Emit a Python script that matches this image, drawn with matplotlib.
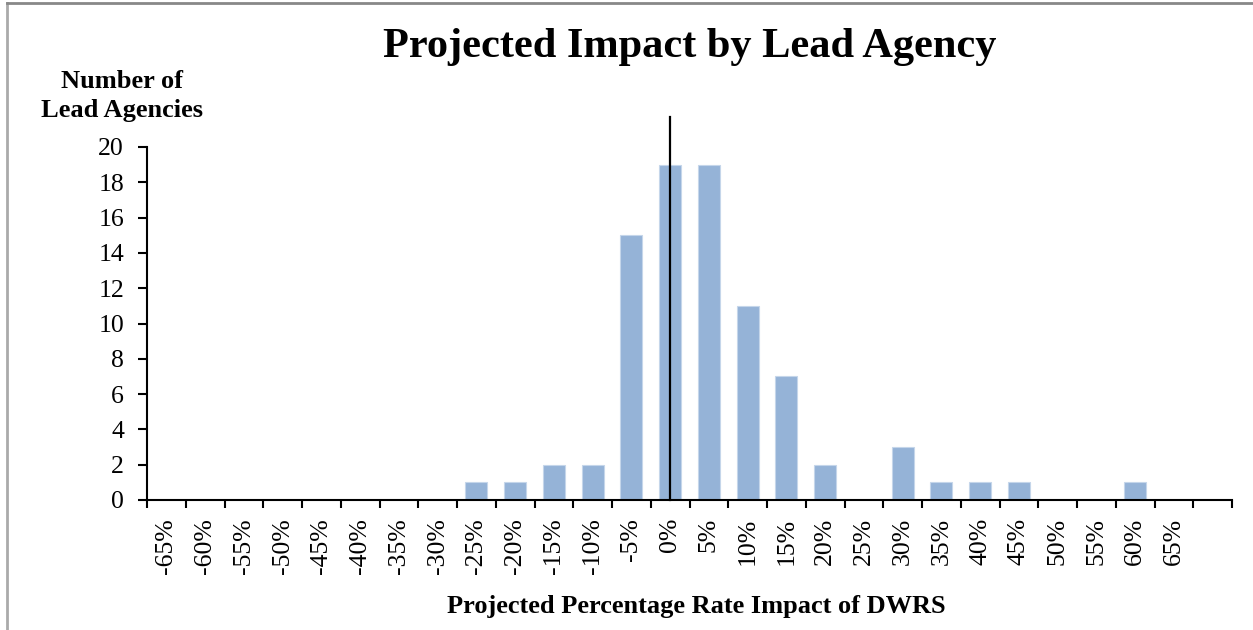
import numpy as np
import matplotlib
matplotlib.use('Agg')
import matplotlib.pyplot as plt
from matplotlib.lines import Line2D

# data
categories = ['-65%', '-60%', '-55%', '-50%', '-45%', '-40%', '-35%', '-30%',
              '-25%', '-20%', '-15%', '-10%', '-5%', '0%', '5%', '10%', '15%',
              '20%', '25%', '30%', '35%', '40%', '45%', '50%', '55%', '60%', '65%']
counts = [0, 0, 0, 0, 0, 0, 0, 0,
          1, 1, 2, 2, 15, 19, 19, 11, 7,
          2, 0, 3, 1, 1, 1, 0, 0, 1, 0]
y_ticks = [0, 2, 4, 6, 8, 10, 12, 14, 16, 18, 20]
n_slots = 28  # axis leaves one empty slot after 65%

plt.rcParams['font.family'] = ['Liberation Serif', 'DejaVu Serif']

W, H = 1253, 630
fig = plt.figure(figsize=(W / 100, H / 100), dpi=100)
ax = fig.add_axes([147 / W, 1 - 500 / H, (1232 - 147) / W, (500 - 147) / H])

x = np.arange(len(categories))
ax.bar(x, counts, width=0.57, color='#95b3d7', edgecolor='#c5d6ea', linewidth=0.8, zorder=2)

# zero line
zero_idx = categories.index('0%')
ax.plot([zero_idx, zero_idx], [0, 21.7], color='black', lw=1.6, clip_on=False, zorder=3)

ax.set_xlim(-0.5, n_slots - 0.5)
ax.set_ylim(0, 20)
ax.set_yticks(y_ticks)
ax.set_yticklabels([str(v) for v in y_ticks], fontsize=18.5)

ax.set_xticks(np.arange(n_slots + 1) - 0.5)
ax.set_xticklabels([])
ax.set_xticks(x, minor=True)
ax.set_xticklabels(categories, minor=True, rotation=90, fontsize=18.5)
ax.tick_params(axis='x', which='major', direction='out', length=6, width=1.5)
ax.tick_params(axis='x', which='minor', length=0, pad=13)
ax.tick_params(axis='y', direction='out', length=6.5, width=1.5, pad=10)

for s in ['top', 'right']:
    ax.spines[s].set_visible(False)
for s in ['left', 'bottom']:
    ax.spines[s].set_linewidth(1.5)

fig.text(690 / W, 1 - 47 / H, 'Projected Impact by Lead Agency', ha='center', va='center',
         fontsize=30.5, fontweight='bold')
fig.text(122 / W, 1 - 96 / H, 'Number of\nLead Agencies', ha='center', va='center',
         fontsize=19, fontweight='bold', linespacing=1.3)
fig.text(696 / W, 1 - 606 / H, 'Projected Percentage Rate Impact of DWRS', ha='center', va='center',
         fontsize=19, fontweight='bold')

# frame edges visible in the reference
fig.add_artist(Line2D([6.5 / W, 6.5 / W], [0, 1 - 3 / H], color='#aaaaaa', lw=2))
fig.add_artist(Line2D([6.5 / W, 1], [1 - 3 / H, 1 - 3 / H], color='#888888', lw=2))

fig.savefig('out.png', dpi=100)
